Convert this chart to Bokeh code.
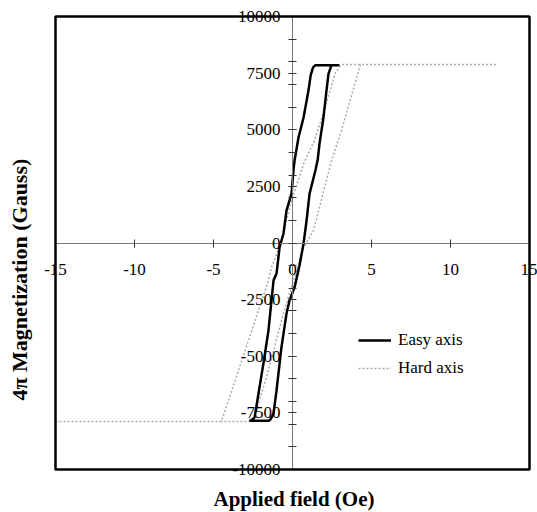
from bokeh.plotting import figure
from bokeh.models import (Range1d, FixedTicker, Title, Legend, LegendItem,
                          CustomJSTickFormatter, BoxAnnotation)
from bokeh.embed import file_html
from bokeh.resources import INLINE

# Easy axis loop (closed)
easy_x = [2.97, 2.47, 2.28, 2.15, 1.96, 1.71, 1.60, 1.45, 1.08, 0.89, 0.70, 0.44, 0.13,
          -0.19, -0.38, -0.70, -1.01, -1.20, -1.40, -1.52, -2.72, -2.55, -2.40, -2.15,
          -1.84, -1.52, -1.20, -1.01, -0.82, -0.57, -0.38, -0.06, 0.06, 0.13, 0.38,
          0.70, 1.01, 1.15, 1.30, 1.45, 2.97]
easy_y = [7850, 7850, 7480, 6730, 5540, 4390, 3700, 3200, 2180, 990, -20, -1000, -1960,
          -2540, -3120, -4610, -6510, -7530, -7800, -7850, -7850, -7800, -7700, -6640,
          -5320, -3860, -1650, -1350, -200, 420, 1430, 2180, 3200, 3640, 4660,
          5540, 6730, 7400, 7750, 7850, 7850]

# Hard axis: ascending branch (with both saturation flats)
hard_up_x = [-15.0, -4.50, -1.52, -1.33, -0.70, -0.06, 0.76, 1.39, 2.20, 2.70, 3.10, 13.0]
hard_up_y = [-7880, -7880, -1650, -1080, 100, 1880, 3600, 4520, 6300, 7500, 7880, 7880]
# Hard axis: descending branch
hard_dn_x = [4.30, 3.10, 2.47, 1.33, 0.70, -0.57, -1.65, -2.50, -4.50]
hard_dn_y = [7880, 4970, 3640, 550, -200, -3100, -5940, -7880, -7880]

x_lim = (-15, 15)
y_lim = (-10000, 10000)
x_ticks = [-15, -10, -5, 0, 5, 10, 15]
y_ticks = [-10000, -7500, -5000, -2500, 0, 2500, 5000, 7500, 10000]
y_minor = list(range(-10000, 10001, 1000))

SERIF = "Liberation Serif"

# plot box size in px and extra room (px) around it for edge tick labels
box_w, box_h = 474, 453
pad_l, pad_r, pad_t, pad_b = 20, 8, 16, 12
px_x = box_w / (x_lim[1] - x_lim[0])
px_y = box_h / (y_lim[1] - y_lim[0])

p = figure(frame_width=box_w + pad_l + pad_r, frame_height=box_h + pad_t + pad_b,
           x_range=Range1d(x_lim[0] - pad_l / px_x, x_lim[1] + pad_r / px_x),
           y_range=Range1d(y_lim[0] - pad_b / px_y, y_lim[1] + pad_t / px_y),
           output_backend="svg", toolbar_location=None,
           min_border_left=34, min_border_right=0, min_border_top=0, min_border_bottom=31,
           background_fill_color="white", border_fill_color="white")

p.outline_line_color = None
p.xgrid.visible = False
p.ygrid.visible = False

p.xaxis.fixed_location = 0
p.yaxis.fixed_location = 0
p.xaxis.bounds = x_lim
p.yaxis.bounds = y_lim
p.xaxis.ticker = FixedTicker(ticks=x_ticks, minor_ticks=[])
p.yaxis.ticker = FixedTicker(ticks=y_ticks, minor_ticks=y_minor)

fmt_code = "return tick.toString();"
for ax in (p.xaxis[0], p.yaxis[0]):
    ax.formatter = CustomJSTickFormatter(code=fmt_code)
    ax.axis_line_color = "#777777"
    ax.axis_line_width = 1
    ax.major_tick_line_color = "#333333"
    ax.minor_tick_line_color = "#333333"
    ax.major_tick_in = 4
    ax.major_tick_out = 4
    ax.minor_tick_in = 4
    ax.minor_tick_out = 4
    ax.major_label_text_font = SERIF
    ax.major_label_text_font_size = "17px"
    ax.major_label_text_color = "black"

p.xaxis.major_label_standoff = 17
p.yaxis.major_label_standoff = 8

box = BoxAnnotation(left=x_lim[0], right=x_lim[1], bottom=y_lim[0], top=y_lim[1],
                    fill_alpha=0, line_color="black", line_alpha=1.0, line_width=2.5)
p.add_layout(box)

hard_up = p.line(hard_up_x, hard_up_y, line_color="#aaaaaa", line_width=1.5, line_dash="2 2")
p.line(hard_dn_x, hard_dn_y, line_color="#aaaaaa", line_width=1.5, line_dash="2 2")
easy = p.line(easy_x, easy_y, line_color="black", line_width=2.5)

legend = Legend(items=[LegendItem(label="Easy axis", renderers=[easy]),
                       LegendItem(label="Hard axis", renderers=[hard_up])],
                location=(323, 103), border_line_color=None, background_fill_alpha=0,
                padding=0, margin=0, spacing=8, glyph_width=33, glyph_height=20,
                label_height=20, label_standoff=7, label_text_color="black",
                label_text_font=SERIF, label_text_font_size="17px")
p.add_layout(legend)

p.add_layout(Title(text="4\u03c0 Magnetization (Gauss)", align="left", offset=81, standoff=8,
                   text_color="black",
                   text_font=SERIF, text_font_size="22px", text_font_style="bold"), "left")
p.add_layout(Title(text="Applied field (Oe)", align="left", offset=178, standoff=6,
                   text_color="black",
                   text_font=SERIF, text_font_size="21px", text_font_style="bold"), "below")

open("out.html", "w").write(file_html(p, INLINE))
